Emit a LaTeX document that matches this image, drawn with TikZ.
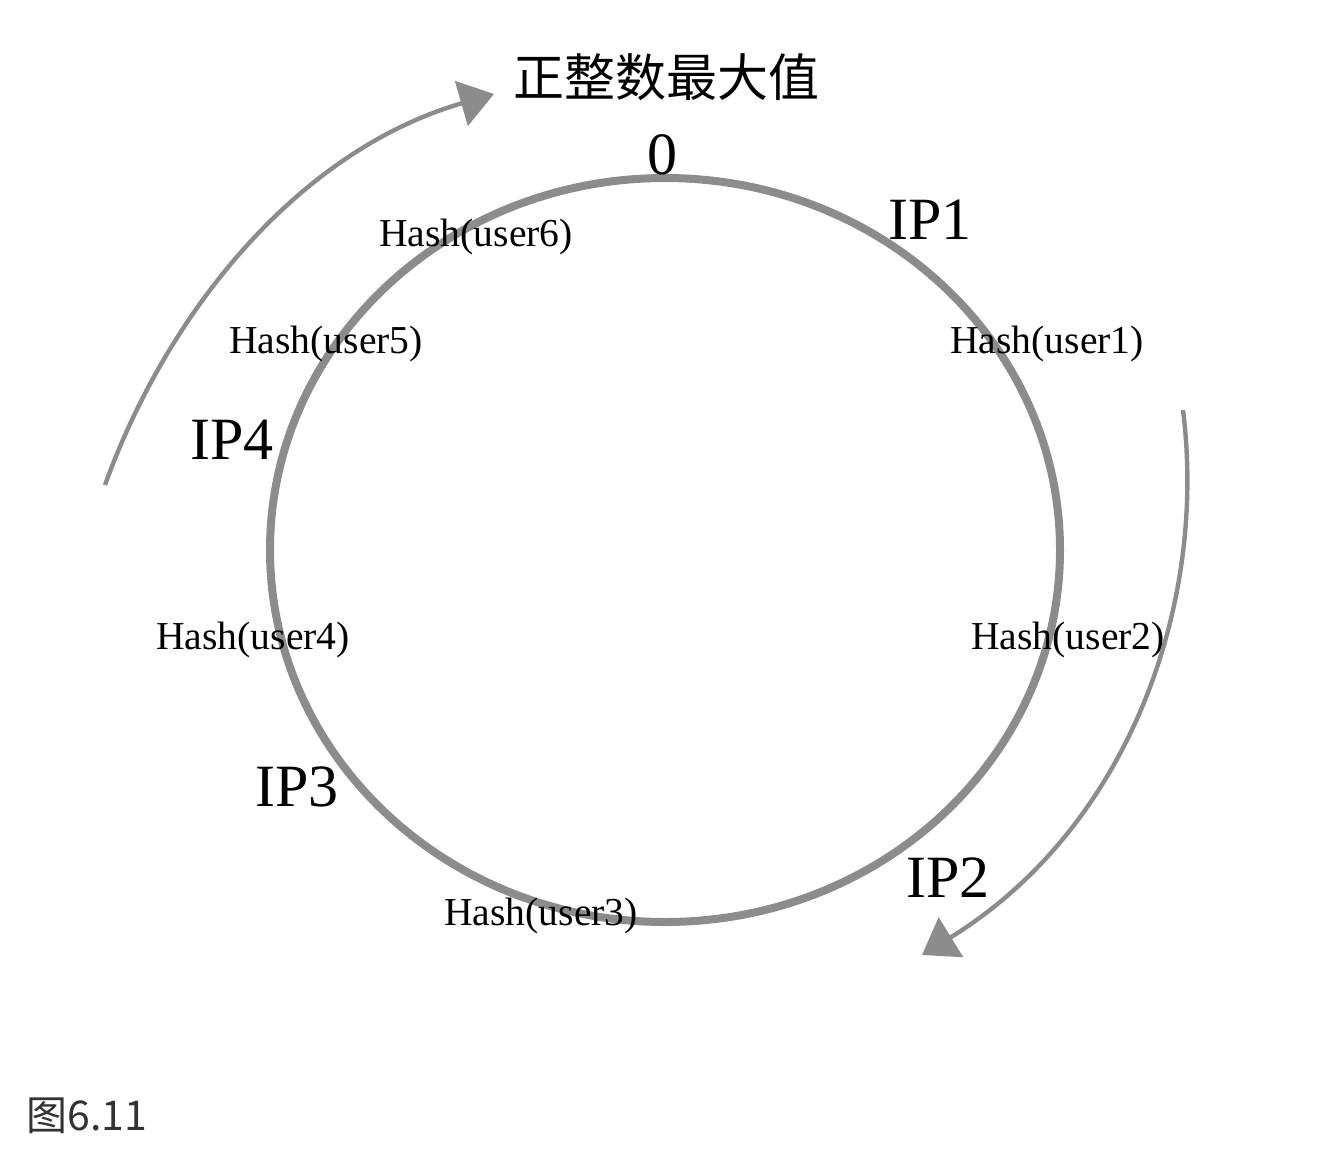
\documentclass[tikz,border=0pt]{standalone}
\usepackage{fontspec}
\setmainfont{Liberation Serif}
\newfontfamily\cjkfont{Noto Sans CJK SC}
\usetikzlibrary{arrows.meta}
\definecolor{ringgray}{HTML}{8C8C8C}
\definecolor{figgray}{HTML}{333333}
\tikzset{
  hashlabel/.style={font=\fontsize{19.8}{24}\selectfont, inner sep=0pt},
  iplabel/.style={font=\fontsize{30}{34}\selectfont, inner sep=0pt},
  flow/.style={draw=ringgray, line width=2.2pt, -{Triangle[length=17pt,width=23pt]}},
}

\begin{document}
\begin{tikzpicture}[x=0.5pt,y=-0.5pt]
	\useasboundingbox (0,0) rectangle (1328,1148);
	% Hash ring
	\draw[ringgray, line width=4pt] (665,550) ellipse [x radius=197.5pt, y radius=186pt];
	% Labels on the ring
	\node[font=\cjkfont\fontsize{25.5}{30}\selectfont, inner sep=0pt] (maxval) at (666,77) {正整数最大值};
	\node[iplabel] (zero) at (662,155) {0};
	\node[iplabel] (ip1) at (930,220) {IP1};
	\node[iplabel] (ip2) at (948,878) {IP2};
	\node[iplabel] (ip3) at (297,787) {IP3};
	\node[iplabel] (ip4) at (232,440) {IP4};
	\foreach \n/\px/\py in {1/1047/344,2/1068/640,3/541/916,4/253/640,5/326/344,6/476/237} {
	\node[hashlabel] (hash\n) at (\px,\py) {Hash(user\n)};
	}
	% Direction arrows
	\coordinate (cwstart) at (1183,410);
	\coordinate (cwend) at (922,955);
	\draw[flow] (cwstart) .. controls (1208,610) and (1125,830) .. (cwend);
	\coordinate (ccwstart) at (105,485);
	\coordinate (ccwend) at (494,94);
	\draw[flow] (ccwstart) .. controls (168,310) and (300,150) .. (ccwend);
	% Caption
	\node[anchor=west, inner sep=0pt, text=figgray, font=\cjkfont\fontsize{20.5}{24}\selectfont] (figno) at (26,1116) {图6.11};
\end{tikzpicture}
\end{document}
